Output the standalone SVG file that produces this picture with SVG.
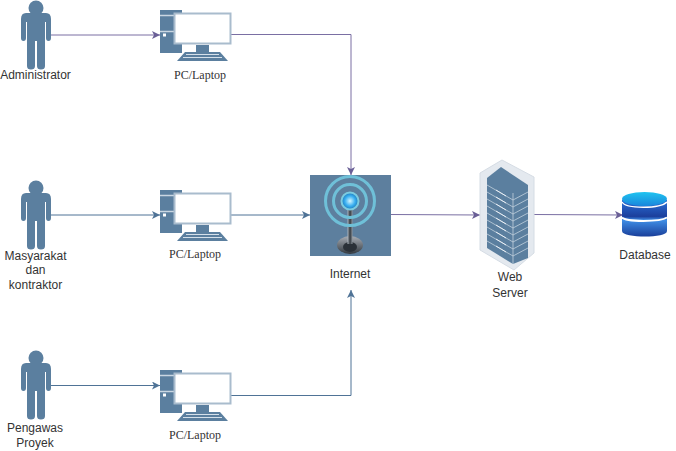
<svg xmlns="http://www.w3.org/2000/svg" width="676" height="451" viewBox="0 0 676 451">
<style>
.s{font-family:"Liberation Sans",Arial,sans-serif;font-size:12px;fill:#333;text-anchor:middle}
.t{font-family:"Liberation Serif","Times New Roman",serif;font-size:12px;fill:#333;text-anchor:middle}
.c{fill:none;stroke-width:1}
.p{stroke:#7a6fa3}
.b{stroke:#4f7396}
</style>
<defs>
<marker id="ap" markerWidth="9" markerHeight="8" refX="8" refY="4" orient="auto" markerUnits="userSpaceOnUse"><path d="M0 0L8 4L0 8L2 4Z" fill="#6a5f96"/></marker>
<marker id="ab" markerWidth="9" markerHeight="8" refX="8" refY="4" orient="auto" markerUnits="userSpaceOnUse"><path d="M0 0L8 4L0 8L2 4Z" fill="#4f7396"/></marker>
<linearGradient id="g1" x1="0" y1="0" x2="0" y2="1"><stop offset="0" stop-color="#2a6fd8"/><stop offset="0.45" stop-color="#1c3f9c"/><stop offset="0.55" stop-color="#3f8ee6"/><stop offset="1" stop-color="#1a3f9a"/></linearGradient>
<linearGradient id="g2" x1="0" y1="0" x2="0" y2="1"><stop offset="0" stop-color="#1fc4f0"/><stop offset="1" stop-color="#1a86dc"/></linearGradient>
<linearGradient id="g3" x1="0" y1="0" x2="0" y2="1"><stop offset="0" stop-color="#a8adb5"/><stop offset="1" stop-color="#33393f"/></linearGradient>
<linearGradient id="g5" x1="0" y1="0" x2="1" y2="0"><stop offset="0" stop-color="#aab2ba"/><stop offset="0.5" stop-color="#33393f"/><stop offset="1" stop-color="#8a929a"/></linearGradient>
<radialGradient id="g4"><stop offset="0" stop-color="#d5f6ff"/><stop offset="0.6" stop-color="#38aef0"/><stop offset="1" stop-color="#1c78b8"/></radialGradient>
<g id="person" fill="#5b7f9f">
<circle cx="36" cy="8" r="7.5"/>
<path d="M26 13H46Q51 13 51 19V38Q51 41 48.500 41Q46 41 46 38V22H45V66Q45 69.500 41 69.500Q37 69.500 37 66V41H35V66Q35 69.500 31 69.500Q27 69.500 27 66V22H26V38Q26 41 23.500 41Q21 41 21 38V19Q21 13 26 13Z"/>
</g>
<g id="pc">
<rect x="160" y="10" width="22" height="43" fill="#5b7f9f"/>
<path d="M160 15.500H181M160 31.500H174" stroke="#c9d6e2" stroke-width="1.500" fill="none"/>
<rect x="163" y="33.500" width="3" height="3" fill="#fff"/>
<rect x="174.500" y="13.500" width="56" height="30" fill="#fff" stroke="#a9bccd" stroke-width="2"/>
<rect x="196" y="45" width="13" height="7" fill="#5b7f9f"/>
<path d="M185 52H220L228 61H177Z" fill="#5b7f9f"/>
<path d="M186 54.500H219M183 57.500H222" stroke="#d5e0ea" stroke-width="1" fill="none"/>
</g>
</defs>
<g id="connectors">
<path class="c p" d="M51 35H160" marker-end="url(#ap)"/>
<path class="c b" d="M51 215H160" marker-end="url(#ab)"/>
<path class="c b" d="M51 385.500H160" marker-end="url(#ab)"/>
<path class="c p" d="M231 34.500H351V175" marker-end="url(#ap)"/>
<path class="c b" d="M231 215H310" marker-end="url(#ab)"/>
<path class="c b" d="M231 395.500H351V290" marker-end="url(#ab)"/>
<path class="c p" d="M391 214.500L480 215" marker-end="url(#ap)"/>
<path class="c p" d="M534 214.500L623 215" marker-end="url(#ap)"/>
</g>
<g id="admin"><use href="#person"/><text class="s" x="35.500" y="79">Administrator</text></g>
<g id="masyarakat"><use href="#person" y="180"/><text class="s" x="35.500" y="260">Masyarakat</text><text class="s" x="35.500" y="274">dan</text><text class="s" x="35.500" y="289">kontraktor</text></g>
<g id="pengawas"><use href="#person" y="350"/><text class="s" x="35" y="432">Pengawas</text><text class="s" x="35" y="447">Proyek</text></g>
<g id="pc1"><use href="#pc"/><text class="t" x="200" y="79">PC/Laptop</text></g>
<g id="pc2"><use href="#pc" y="180"/><text class="t" x="195" y="258">PC/Laptop</text></g>
<g id="pc3"><use href="#pc" y="360"/><text class="t" x="195" y="439">PC/Laptop</text></g>
<g id="internet">
<rect x="310" y="175" width="81" height="81" fill="#5d7f9e"/>
<ellipse cx="350" cy="245" rx="13" ry="9" fill="url(#g3)"/>
<ellipse cx="350" cy="247" rx="7" ry="5" fill="#2b3138"/>
<rect x="347.500" y="210" width="5" height="34" fill="url(#g5)"/>
<circle cx="350" cy="201" r="24.500" fill="none" stroke="#6fc0d8" stroke-width="3"/>
<circle cx="350" cy="201" r="16.500" fill="none" stroke="#6fc0d8" stroke-width="3"/>
<circle cx="350" cy="201" r="8.500" fill="url(#g4)" stroke="#7ccbe0" stroke-width="2"/>
<text class="s" x="350" y="278">Internet</text>
</g>
<g id="webserver">
<path d="M502 160L534 177V253L514 270L480 250V173Z" fill="#e4e9ef" stroke="#d5dce4"/>
<path d="M501 167L528 185V258L513 264L487 248V178Z" fill="#5b7f9f"/>
<path d="M487 185L513 200L528 192M487 192L513 207L528 199M487 199L513 214L528 206M487 206L513 221L528 213M487 213L513 228L528 220M487 220L513 235L528 227M487 227L513 242L528 234M487 234L513 249L528 241M487 241L513 256L528 248M513 193V264" stroke="#c2d0dd" stroke-width="0.800" fill="none"/>
<path d="M496 190L506 196M496 197L506 203M496 204L506 210M496 211L506 217M496 218L506 224M496 225L506 231M496 232L506 238M496 239L506 245M496 246L506 252" stroke="#e8eef4" stroke-width="1" fill="none"/>
<text class="s" x="510" y="281">Web</text>
<text class="s" x="510" y="297">Server</text>
</g>
<g id="database">
<path d="M622 200V231C622 235 634 236.500 645 236.500C656 236.500 667 235 667 231V200Z" fill="url(#g1)"/>
<path d="M622 217.500C626 222 660 222 667 217.500" fill="none" stroke="#fff" stroke-width="2"/>
<ellipse cx="644.500" cy="199" rx="22.500" ry="7" fill="url(#g2)"/>
<path d="M622 202C626 209 660 209 667 202" fill="none" stroke="#fff" stroke-width="1.500"/>
<text class="s" x="645" y="259">Database</text>
</g>
</svg>
